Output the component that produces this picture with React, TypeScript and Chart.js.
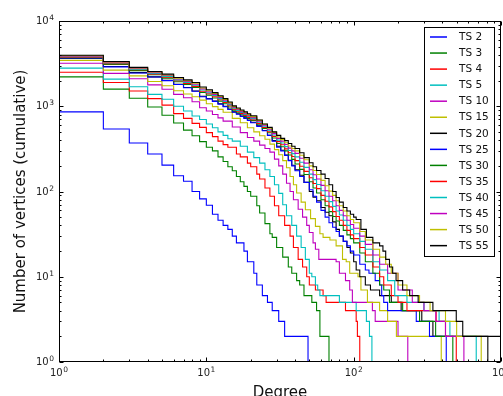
import React, { useEffect, useRef } from "react";
import { Chart, registerables } from "chart.js";

Chart.register(...registerables);

// ---------- data ----------
const seriesLabels = ["TS 2", "TS 3", "TS 4", "TS 5", "TS 10", "TS 15", "TS 20", "TS 25", "TS 30", "TS 35", "TS 40", "TS 45", "TS 50", "TS 55"];
const seriesColors = ["#0000ff", "#008000", "#ff0000", "#00bfbf", "#bf00bf", "#bfbf00", "#000000", "#0000ff", "#008000", "#ff0000", "#00bfbf", "#bf00bf", "#bfbf00", "#000000"];

const xTickExponents = [0, 1, 2, 3];
const yTickExponents = [0, 1, 2, 3, 4];

const ts2Degree = [1, 2, 3, 4, 5, 6, 7, 8, 9, 10, 11, 12, 13, 14, 15, 16, 18, 19, 21, 22, 24, 26, 28, 31, 34, 49];
const ts2Count = [860, 540, 370, 275, 204, 153, 132, 100, 82, 69, 54, 46, 40, 36, 30, 25, 20, 15, 11, 8, 6, 5, 4, 3, 2, 1];

const ts3Degree = [1, 2, 3, 4, 5, 6, 7, 8, 9, 10, 11, 12, 13, 14, 15, 16, 17, 18, 19, 20, 22, 23, 25, 27, 28, 30, 33, 36, 38, 41, 43, 46, 52, 56, 59, 68];
const ts3Count = [2210, 1590, 1240, 980, 785, 635, 525, 450, 385, 330, 300, 255, 225, 195, 175, 150, 130, 115, 100, 88, 68, 56, 42, 32, 29, 22, 17, 13, 11, 9, 8, 6, 5, 4, 2, 1];

const ts4Degree = [1, 2, 3, 4, 5, 6, 7, 8, 9, 10, 11, 12, 13, 14, 16, 17, 19, 20, 22, 23, 25, 27, 29, 31, 34, 37, 39, 42, 45, 48, 50, 55, 62, 65, 88, 104, 106, 110];
const ts4Count = [2510, 1900, 1510, 1230, 1030, 820, 720, 630, 565, 490, 440, 390, 355, 330, 275, 255, 215, 195, 160, 140, 110, 88, 68, 52, 40, 30, 22, 16, 13, 10, 8, 7, 6, 5, 4, 3, 2, 1];

const ts5Degree = [1, 2, 3, 4, 5, 6, 7, 8, 9, 10, 11, 12, 13, 14, 15, 17, 19, 21, 23, 25, 27, 29, 31, 33, 35, 38, 41, 44, 47, 50, 52, 55, 57, 59, 80, 104, 122, 128, 133];
const ts5Count = [2800, 2080, 1690, 1380, 1210, 1000, 880, 770, 700, 620, 560, 500, 455, 415, 390, 340, 290, 250, 215, 180, 150, 120, 95, 70, 52, 40, 30, 22, 16, 11, 10, 8, 7, 6, 5, 4, 3, 2, 1];

const ts10Degree = [1, 2, 3, 4, 5, 6, 7, 8, 9, 10, 11, 12, 13, 15, 17, 19, 21, 23, 25, 27, 29, 31, 33, 35, 37, 39, 42, 45, 48, 50, 53, 55, 58, 76, 80, 88, 94, 98, 134, 140, 200, 233];
const ts10Count = [3200, 2430, 2100, 1780, 1580, 1380, 1260, 1130, 960, 880, 800, 730, 670, 570, 490, 430, 390, 350, 320, 290, 240, 200, 160, 125, 100, 80, 62, 50, 40, 33, 25, 21, 16, 15, 11, 9, 7, 5, 4, 3, 2, 1];

const ts15Degree = [1, 2, 3, 4, 5, 6, 7, 8, 9, 10, 11, 12, 13, 15, 17, 19, 21, 23, 25, 27, 29, 31, 33, 35, 37, 39, 41, 44, 47, 51, 55, 59, 62, 69, 76, 84, 89, 94, 107, 112, 124, 150, 170, 195, 393];
const ts15Count = [3450, 2650, 2270, 1950, 1740, 1520, 1390, 1290, 1180, 1070, 990, 920, 850, 720, 640, 560, 500, 450, 410, 360, 310, 270, 230, 190, 150, 120, 96, 75, 61, 48, 39, 32, 29, 27, 23, 16, 15, 11, 10, 7, 5, 4, 3, 2, 1];

// degrees shared by the dense part of the upper group of curves
const clusterDegree = [1, 2, 3, 4, 5, 6, 7, 8, 9, 10, 11, 12, 13, 14, 15, 16, 17, 18, 19, 20, 22, 24, 26, 28, 30, 32, 34, 36, 38, 40, 43, 46, 50, 53, 56, 60, 64, 68, 72, 76, 80, 85, 90, 95, 100];

const ts20Degree = [...clusterDegree, 104, 110, 120, 130, 150, 180, 210, 290, 345, 1000];
const ts20Count = [3640, 2930, 2480, 2210, 2010, 1810, 1660, 1510, 1310, 1230, 1150, 1070, 1000, 925, 860, 815, 770, 730, 690, 650, 590, 520, 455, 395, 340, 305, 268, 232, 203, 180, 155, 128, 100, 86, 78, 65, 57, 52, 44, 36, 30, 26, 22, 19, 15, 12, 10, 8, 7, 6, 5, 4, 3, 2, 2];

const ts25Degree = [...clusterDegree, 110, 120, 127, 140, 150, 155, 160, 170, 266, 327, 425];
const ts25Count = [3670, 2900, 2450, 2200, 2000, 1800, 1650, 1500, 1290, 1220, 1140, 1060, 990, 915, 850, 805, 760, 720, 680, 640, 580, 515, 455, 390, 330, 300, 265, 230, 200, 175, 150, 128, 105, 88, 75, 60, 50, 43, 38, 34, 30, 26, 23, 20, 18, 14, 12, 11, 9, 8, 6, 5, 4, 3, 2, 1];

const ts30Degree = [...clusterDegree, 110, 120, 135, 150, 160, 175, 215, 280, 360, 471];
const ts30Count = [3720, 3100, 2620, 2340, 2140, 1940, 1800, 1660, 1450, 1350, 1250, 1150, 1070, 980, 900, 850, 805, 760, 720, 680, 615, 548, 488, 425, 365, 335, 300, 268, 238, 210, 182, 158, 130, 110, 96, 80, 68, 58, 51, 45, 40, 35, 31, 28, 25, 19, 15, 11, 8, 7, 5, 4, 3, 2, 1];

const ts35Degree = [...clusterDegree, 110, 120, 135, 150, 160, 180, 200, 230, 363, 420, 497];
const ts35Count = [3760, 3160, 2680, 2390, 2190, 1990, 1850, 1710, 1500, 1400, 1295, 1190, 1105, 1015, 925, 875, 825, 780, 738, 695, 630, 563, 503, 443, 385, 353, 316, 285, 257, 230, 198, 172, 145, 124, 108, 90, 77, 66, 58, 51, 46, 40, 35, 31, 28, 22, 18, 13, 10, 8, 6, 5, 4, 3, 2, 1];

const ts40Degree = [...clusterDegree, 110, 120, 135, 150, 170, 190, 230, 300, 380, 450, 679];
const ts40Count = [3810, 3210, 2720, 2430, 2240, 2040, 1900, 1760, 1550, 1440, 1335, 1230, 1140, 1045, 950, 895, 845, 800, 757, 715, 650, 583, 523, 460, 400, 370, 336, 303, 278, 255, 220, 192, 160, 138, 121, 102, 88, 76, 67, 59, 53, 46, 40, 36, 32, 26, 21, 15, 12, 9, 6, 5, 4, 3, 2, 1];

const ts45Degree = [...clusterDegree, 110, 120, 135, 150, 170, 200, 250, 300, 361, 420, 560];
const ts45Count = [3860, 3260, 2770, 2480, 2290, 2090, 1950, 1810, 1600, 1480, 1375, 1270, 1175, 1070, 970, 915, 865, 820, 777, 735, 668, 598, 538, 478, 420, 390, 356, 323, 300, 280, 245, 215, 180, 157, 140, 118, 102, 88, 78, 68, 60, 52, 46, 41, 37, 30, 24, 18, 14, 11, 7, 5, 4, 3, 2, 1];

const ts50Degree = [...clusterDegree, 110, 120, 135, 150, 165, 180, 200, 230, 280, 330, 420, 500, 734];
const ts50Count = [3910, 3310, 2810, 2520, 2330, 2130, 1990, 1860, 1640, 1520, 1410, 1300, 1205, 1095, 990, 935, 885, 840, 797, 755, 686, 614, 553, 494, 435, 406, 373, 342, 320, 300, 266, 236, 200, 176, 158, 135, 117, 101, 90, 78, 68, 59, 52, 47, 43, 34, 27, 21, 17, 14, 11, 8, 6, 5, 4, 3, 2, 1];

const ts55Degree = [...clusterDegree, 104, 112, 122, 135, 150, 158, 165, 175, 184, 194, 215, 240, 274, 345, 497, 550, 814];
const ts55Count = [3960, 3350, 2860, 2560, 2380, 2170, 2040, 1900, 1680, 1560, 1445, 1330, 1230, 1120, 1010, 955, 905, 860, 817, 775, 690, 620, 565, 500, 455, 420, 395, 365, 340, 320, 285, 250, 217, 195, 176, 160, 142, 120, 100, 85, 75, 65, 59, 54, 50, 47, 36, 29, 25, 23, 20, 16, 13, 11, 9, 7, 6, 5, 4, 3, 2, 1];

const seriesDegrees = [ts2Degree, ts3Degree, ts4Degree, ts5Degree, ts10Degree, ts15Degree, ts20Degree, ts25Degree, ts30Degree, ts35Degree, ts40Degree, ts45Degree, ts50Degree, ts55Degree];
const seriesCounts = [ts2Count, ts3Count, ts4Count, ts5Count, ts10Count, ts15Count, ts20Count, ts25Count, ts30Count, ts35Count, ts40Count, ts45Count, ts50Count, ts55Count];

const FONT = '"DejaVu Sans", "Liberation Sans", sans-serif';

function drawPower(ctx: CanvasRenderingContext2D, exp: number, x: number, baseline: number, align: "center" | "right") {
  ctx.font = `10px ${FONT}`;
  const w1 = ctx.measureText("10").width;
  ctx.font = `7.5px ${FONT}`;
  const w2 = ctx.measureText(String(exp)).width;
  const total = w1 + 0.5 + w2;
  const start = align === "center" ? x - total / 2 : x - total;
  ctx.textAlign = "left";
  ctx.textBaseline = "alphabetic";
  ctx.font = `10px ${FONT}`;
  ctx.fillText("10", start, baseline);
  ctx.font = `7.5px ${FONT}`;
  ctx.fillText(String(exp), start + w1 + 0.5, baseline - 4);
}

const decorPlugin = {
  id: "decor",
  afterDraw(chart: any) {
    const ctx: CanvasRenderingContext2D = chart.ctx;
    const { left, right, top, bottom } = chart.chartArea;
    const xs = chart.scales.x;
    const ys = chart.scales.y;
    ctx.save();
    ctx.strokeStyle = "#000";
    ctx.fillStyle = "#000";
    ctx.lineWidth = 1;

    // frame
    const L = Math.round(left) + 0.5;
    const R = Math.round(right) - 0.5;
    const T = Math.round(top) + 0.5;
    const B = Math.round(bottom) - 0.5;
    ctx.strokeRect(L, T, R - L, B - T);

    // ticks (inward, all sides)
    ctx.beginPath();
    for (let k = 0; k < xTickExponents.length; k++) {
      const e = xTickExponents[k];
      for (let m = 1; m <= 9; m++) {
        if (m > 1 && e === xTickExponents[xTickExponents.length - 1]) continue;
        const v = m * Math.pow(10, e);
        const px = Math.round(xs.getPixelForValue(v)) + 0.5;
        const len = m === 1 ? 4 : 2;
        ctx.moveTo(px, B); ctx.lineTo(px, B - len);
        ctx.moveTo(px, T); ctx.lineTo(px, T + len);
      }
    }
    for (let k = 0; k < yTickExponents.length; k++) {
      const e = yTickExponents[k];
      for (let m = 1; m <= 9; m++) {
        if (m > 1 && e === yTickExponents[yTickExponents.length - 1]) continue;
        const v = m * Math.pow(10, e);
        const py = Math.round(ys.getPixelForValue(v)) + 0.5;
        const len = m === 1 ? 4 : 2;
        ctx.moveTo(L, py); ctx.lineTo(L + len, py);
        ctx.moveTo(R, py); ctx.lineTo(R - len, py);
      }
    }
    ctx.stroke();

    // tick labels
    ctx.fillStyle = "#222";
    for (const e of xTickExponents) {
      const px = xs.getPixelForValue(Math.pow(10, e));
      drawPower(ctx, e, px, bottom + 14, "center");
    }
    for (const e of yTickExponents) {
      const py = ys.getPixelForValue(Math.pow(10, e));
      drawPower(ctx, e, left - 5, py + 3, "right");
    }

    // axis titles
    ctx.fillStyle = "#111";
    ctx.font = `15px ${FONT}`;
    ctx.textAlign = "center";
    ctx.textBaseline = "alphabetic";
    ctx.fillText("Degree", (left + right) / 2, bottom + 35);
    ctx.save();
    ctx.translate(25, (top + bottom) / 2);
    ctx.rotate(-Math.PI / 2);
    ctx.fillText("Number of vertices (cumulative)", 0, 0);
    ctx.restore();

    // legend
    const lx = Math.round(right) - 77;
    const ly = Math.round(top) + 6;
    const lw = 70;
    const lh = 229;
    ctx.fillStyle = "#fff";
    ctx.fillRect(lx, ly, lw, lh);
    ctx.strokeStyle = "#000";
    ctx.lineWidth = 1;
    ctx.strokeRect(lx + 0.5, ly + 0.5, lw, lh);
    const datasets = chart.data.datasets;
    ctx.font = `10.5px ${FONT}`;
    ctx.textAlign = "left";
    ctx.textBaseline = "middle";
    for (let i = 0; i < datasets.length; i++) {
      const y = ly + 10 + i * 16.05;
      ctx.strokeStyle = datasets[i].borderColor;
      ctx.lineWidth = 1.5;
      ctx.beginPath();
      ctx.moveTo(lx + 6, y);
      ctx.lineTo(lx + 23, y);
      ctx.stroke();
      ctx.fillStyle = "#111";
      ctx.fillText(datasets[i].label, lx + 35, y + 0.5);
    }
    ctx.restore();
  },
};

export default function App() {
  const canvasRef = useRef<HTMLCanvasElement>(null);

  useEffect(() => {
    const canvas = canvasRef.current;
    if (!canvas) return;
    const datasets = seriesLabels.map((label, i) => ({
      label,
      data: seriesDegrees[i].map((d, j) => ({ x: d, y: seriesCounts[i][j] })),
      borderColor: seriesColors[i],
      backgroundColor: seriesColors[i],
      borderWidth: 1.1,
      pointRadius: 0,
      fill: false,
      stepped: "before" as const,
      tension: 0,
      order: seriesLabels.length - 1 - i,
    }));
    const chart = new Chart(canvas, {
      type: "line",
      data: { datasets },
      options: {
        animation: false,
        responsive: false,
        devicePixelRatio: 1,
        layout: { padding: { top: 21, right: 2, left: 0, bottom: 0 } },
        plugins: { legend: { display: false }, tooltip: { enabled: false } },
        scales: {
          x: {
            type: "logarithmic",
            min: 1,
            max: 1000,
            grid: { display: false, drawTicks: false },
            border: { display: false },
            ticks: { display: false },
            afterFit: (s: any) => { s.height = 34; },
          },
          y: {
            type: "logarithmic",
            min: 1,
            max: 10000,
            grid: { display: false, drawTicks: false },
            border: { display: false },
            ticks: { display: false },
            afterFit: (s: any) => { s.width = 59; },
          },
        },
      },
      plugins: [decorPlugin],
    });
    return () => chart.destroy();
  }, []);

  return (
    <div style={{ position: "fixed", left: 0, top: 0, width: 503, height: 396, background: "#fff" }}>
      <canvas ref={canvasRef} width={503} height={396} style={{ display: "block", width: 503, height: 396 }} />
    </div>
  );
}
